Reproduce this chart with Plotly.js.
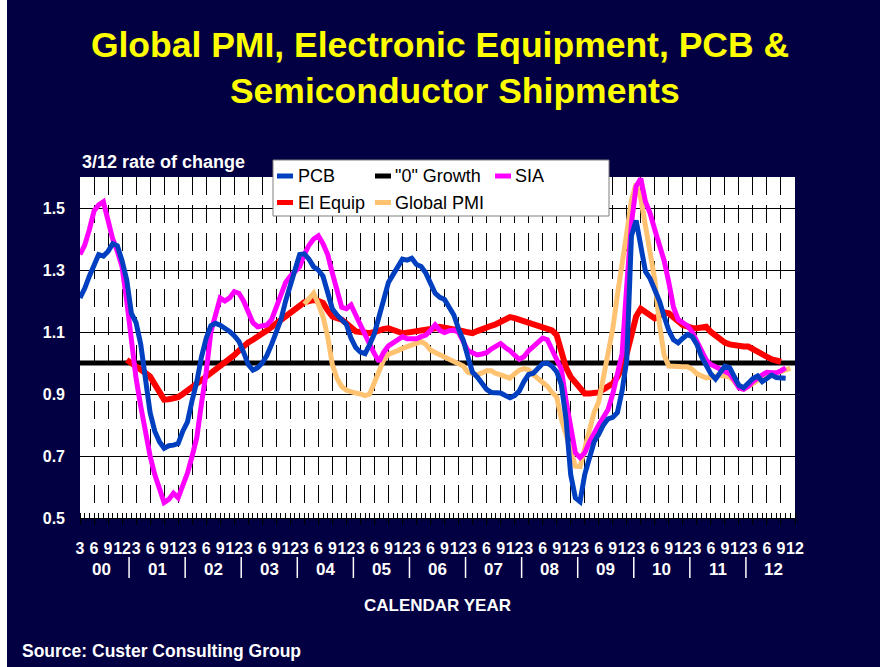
<!DOCTYPE html>
<html>
<head>
<meta charset="utf-8">
<script src="https://cdn.plot.ly/plotly-3.0.1.min.js"></script>
<style>html,body{margin:0;padding:0;background:#020042;}#chart{width:880px;height:667px;}</style>
</head>
<body>
<div id="chart"></div>
<script>
// ---- data (monthly, 3/12 rate of change), first month = March 2000 ----
const startYear = 2000;
const startMonth = 3;
const nMonths = 154; // Mar 2000 .. Dec 2012

const pcb = [
1.21,1.24,1.28,1.32,1.35,1.345,1.36,1.385,1.378,1.33,
1.268,1.16,1.13,1.06,0.95,0.84,0.78,0.746,0.725,0.733,
0.735,0.74,0.78,0.81,0.88,0.94,1.02,1.08,1.12,1.128,
1.122,1.114,1.102,1.088,1.07,1.035,0.995,0.977,0.985,1.00,
1.025,1.06,1.095,1.14,1.20,1.25,1.305,1.35,1.352,1.335,
1.31,1.30,1.28,1.23,1.175,1.155,1.14,1.125,1.08,1.05,
1.035,1.03,1.06,1.095,1.15,1.20,1.26,1.285,1.31,1.335,
1.332,1.338,1.318,1.311,1.29,1.255,1.225,1.212,1.205,1.18,
1.155,1.11,1.074,1.02,0.97,0.955,0.935,0.915,0.905,0.905,
0.903,0.895,0.888,0.895,0.91,0.94,0.963,0.967,0.982,0.998,
1.0,0.99,0.972,0.93,0.82,0.64,0.565,0.553,0.64,0.70,
0.745,0.77,0.80,0.82,0.825,0.84,0.91,1.01,1.41,1.46,
1.38,1.295,1.272,1.24,1.20,1.15,1.105,1.075,1.065,1.08,
1.092,1.085,1.06,1.02,0.99,0.965,0.948,0.968,0.99,0.985,
0.955,0.928,0.92,0.934,0.95,0.958,0.94,0.95,0.961,0.953,
0.951,0.951
];
const pcbStart = 0;

const sia = [
1.35,1.38,1.43,1.49,1.51,1.52,1.46,1.40,1.36,1.31,
1.20,1.065,0.95,0.86,0.77,0.70,0.64,0.59,0.55,0.56,
0.58,0.565,0.60,0.645,0.70,0.76,0.87,0.97,1.10,1.16,
1.21,1.20,1.21,1.23,1.225,1.20,1.16,1.13,1.117,1.12,
1.123,1.14,1.18,1.23,1.26,1.28,1.295,1.31,1.35,1.38,
1.40,1.41,1.385,1.35,1.29,1.23,1.18,1.175,1.187,1.155,
1.12,1.09,1.06,1.03,1.005,1.035,1.055,1.065,1.075,1.085,
1.078,1.076,1.078,1.085,1.09,1.105,1.123,1.105,1.098,1.104,
1.106,1.099,1.07,1.04,1.033,1.026,1.029,1.033,1.045,1.055,
1.063,1.05,1.04,1.025,1.012,1.02,1.04,1.053,1.068,1.08,
1.075,1.045,1.01,0.98,0.88,0.79,0.71,0.695,0.71,0.745,
0.775,0.80,0.825,0.85,0.90,0.96,1.03,1.25,1.45,1.57,
1.595,1.52,1.483,1.43,1.38,1.33,1.26,1.18,1.14,1.13,
1.12,1.10,1.07,1.04,1.01,0.995,0.988,0.98,0.972,0.965,
0.945,0.92,0.915,0.925,0.94,0.952,0.962,0.97,0.97,0.968,
0.975,0.984
];
const siaStart = 0;

const elEquip = [
1.01,1.00,0.993,0.98,0.968,0.956,0.93,0.903,0.882,0.883,
0.885,0.89,0.90,0.91,0.922,0.934,0.945,0.956,0.967,0.98,
0.99,0.998,1.01,1.025,1.04,1.055,1.066,1.075,1.083,1.095,
1.105,1.116,1.127,1.138,1.148,1.16,1.17,1.182,1.196,1.20,
1.203,1.2,1.194,1.17,1.15,1.145,1.14,1.128,1.112,1.102,
1.10,1.098,1.096,1.10,1.106,1.11,1.112,1.107,1.10,1.096,
1.098,1.10,1.101,1.103,1.105,1.108,1.112,1.117,1.115,1.113,
1.111,1.107,1.103,1.099,1.096,1.103,1.11,1.117,1.12,1.125,
1.132,1.14,1.148,1.145,1.14,1.134,1.13,1.127,1.123,1.118,
1.113,1.105,1.09,1.04,0.985,0.955,0.935,0.915,0.902,0.902,
0.902,0.905,0.915,0.925,0.934,0.955,0.985,1.03,1.10,1.15,
1.175,1.165,1.155,1.144,1.153,1.163,1.16,1.15,1.135,1.122,
1.115,1.113,1.112,1.114,1.117,1.10,1.088,1.078,1.066,1.06,
1.056,1.053,1.053,1.053,1.045,1.035,1.025,1.017,1.012,1.008,
1.004
];
const elEquipStart = 10; // Jan 2001

const globalPmi = [
1.19,1.21,1.225,1.19,1.15,1.085,0.995,0.95,0.924,0.912,
0.906,0.903,0.90,0.895,0.90,0.935,0.97,1.01,1.028,1.036,
1.04,1.047,1.052,1.057,1.063,1.069,1.06,1.042,1.034,1.026,
1.02,1.01,1.003,0.996,0.99,0.97,0.966,0.962,0.968,0.975,
0.975,0.966,0.962,0.957,0.951,0.965,0.977,0.982,0.978,0.962,
0.95,0.935,0.925,0.905,0.89,0.82,0.77,0.71,0.667,0.666,
0.72,0.78,0.84,0.875,0.95,1.03,1.11,1.22,1.31,1.42,
1.526,1.578,1.53,1.44,1.35,1.268,1.125,1.025,0.99,0.988,
0.988,0.988,0.988,0.98,0.965,0.958,0.952,0.954,0.957,0.96,
0.958,0.955,0.94,0.922,0.915,0.925,0.935,0.945,0.955,0.962,
0.967,0.969,0.972,0.978,0.983
];
const globalPmiStart = 48; // Mar 2004

const zeroGrowth = [1.0, 1.0];

const yTicks = [0.5, 0.7, 0.9, 1.1, 1.3, 1.5];
const quarterLabels = ['3', '6', '9', '12'];
const yearLabels = ['00','01','02','03','04','05','06','07','08','09','10','11','12'];

// ---- helpers ----
const FONT = 'Liberation Sans, Arial, Helvetica, sans-serif';
const W = 880, H = 667, ML = 80, MR = 85, MT = 177, MB = 149;
const PW = W - ML - MR, PH = H - MT - MB;
const px = x => (x - ML) / PW;          // container px -> paper x
const py = y => (H - MB - y) / PH;      // container px -> paper y
const idx = (arr, start) => arr.map((_, k) => start + k);

// month category indices and quarter ticks
const monthIdx = Array.from({length: nMonths}, (_, i) => i);
const quarterIdx = monthIdx.filter(i => ((startMonth - 1 + i) % 12 + 1) % 3 === 0);
const quarterText = quarterIdx.map(i => quarterLabels[(((startMonth - 1 + i) % 12 + 1) / 3) - 1]);
// year group centres & separators (groups of quarter labels)
const yearCenters = yearLabels.map((_, k) => quarterIdx[k * 4] + (quarterIdx[Math.min(k * 4 + 3, quarterIdx.length - 1)] - quarterIdx[k * 4]) / 2);
const yearSeps = yearLabels.slice(0, -1).map((_, k) => (quarterIdx[k * 4 + 3] + quarterIdx[k * 4 + 4]) / 2);

const traces = [
  {name: '"0" Growth', x: [monthIdx[0], monthIdx[nMonths - 1]], y: zeroGrowth, mode: 'lines',
   line: {color: '#000000', width: 5}},
  {name: 'El Equip', x: idx(elEquip, elEquipStart), y: elEquip, mode: 'lines',
   line: {color: '#FF0000', width: 6}},
  {name: 'Global PMI', x: idx(globalPmi, globalPmiStart), y: globalPmi, mode: 'lines',
   line: {color: '#FFC271', width: 5}},
  {name: 'SIA', x: idx(sia, siaStart), y: sia, mode: 'lines',
   line: {color: '#FF00FF', width: 5}},
  {name: 'PCB', x: idx(pcb, pcbStart), y: pcb, mode: 'lines',
   line: {color: '#0040C0', width: 5}}
];

// manual legend (matches the original's compact two-row box)
const legendItems = [
  {name: 'PCB', color: '#0040C0', sx: 277, tx: 296, y: 176},
  {name: '"0" Growth', color: '#000000', sx: 375, tx: 393, y: 176},
  {name: 'SIA', color: '#FF00FF', sx: 495, tx: 513, y: 176},
  {name: 'El Equip', color: '#FF0000', sx: 277, tx: 296, y: 202.5},
  {name: 'Global PMI', color: '#FFC271', sx: 375, tx: 393, y: 202.5}
];

const shapes = [
  // white strip at the far left of the slide
  {type: 'rect', xref: 'paper', yref: 'paper', x0: px(0), x1: px(7), y0: py(H), y1: py(0),
   fillcolor: '#FFFFFF', line: {width: 0}},
  // legend box
  {type: 'rect', xref: 'paper', yref: 'paper', x0: px(273), x1: px(609), y0: py(216), y1: py(160),
   fillcolor: '#FFFFFF', line: {color: '#7F7F7F', width: 1}}
];
legendItems.forEach(it => shapes.push({type: 'line', xref: 'paper', yref: 'paper',
  x0: px(it.sx), x1: px(it.sx + 16), y0: py(it.y), y1: py(it.y), line: {color: it.color, width: 5}}));
yearSeps.forEach(s => shapes.push({type: 'line', xref: 'x', yref: 'paper', x0: s, x1: s,
  y0: py(557), y1: py(578), line: {color: '#FFFFFF', width: 1.5}}));

const annotations = [];
legendItems.forEach(it => annotations.push({xref: 'paper', yref: 'paper', x: px(it.tx), y: py(it.y),
  xanchor: 'left', yanchor: 'middle', showarrow: false, text: it.name,
  font: {family: FONT, size: 18, color: '#000000'}}));
yearLabels.forEach((t, k) => annotations.push({xref: 'x', yref: 'paper', x: yearCenters[k], y: py(569),
  xanchor: 'center', yanchor: 'middle', showarrow: false, text: t,
  font: {family: FONT, size: 17, color: '#FFFFFF', weight: 'bold'}}));
annotations.push({xref: 'paper', yref: 'paper', x: px(80), y: py(162), xanchor: 'left', yanchor: 'middle',
  showarrow: false, text: '3/12 rate of change', font: {family: FONT, size: 18, color: '#FFFFFF', weight: 'bold'}});
annotations.push({xref: 'paper', yref: 'paper', x: px(20), y: py(651), xanchor: 'left', yanchor: 'middle',
  showarrow: false, text: 'Source: Custer Consulting Group', font: {family: FONT, size: 17.5, color: '#FFFFFF', weight: 'bold'}});

const layout = {
  width: W, height: H,
  margin: {l: ML, r: MR, t: MT, b: MB, pad: 0},
  paper_bgcolor: '#020042',
  plot_bgcolor: '#FFFFFF',
  showlegend: false,
  font: {family: FONT, color: '#FFFFFF'},
  title: {
    text: 'Global PMI, Electronic Equipment, PCB &amp;<br>&nbsp;&nbsp;&nbsp;Semiconductor Shipments',
    font: {family: FONT, size: 35.5, color: '#FFFF00', weight: 'bold'},
    xref: 'container', x: 440 / W, xanchor: 'center',
    yref: 'container', y: 1 - 57 / H, yanchor: 'top'
  },
  xaxis: {
    range: [monthIdx[0], monthIdx[nMonths - 1]],
    tickmode: 'array', tickvals: quarterIdx, ticktext: quarterText,
    ticks: 'outside', ticklen: 6, tickcolor: '#000000', tickwidth: 1,
    ticklabelstandoff: 10,
    tickfont: {family: FONT, size: 16, color: '#FFFFFF', weight: 'bold'},
    tickangle: 0,
    showgrid: true, gridcolor: '#000000', gridwidth: 1, griddash: '18px,10px',
    showline: true, linecolor: '#000000', linewidth: 1,
    zeroline: false, automargin: false,
    minor: {tickmode: 'linear', tick0: 0, dtick: 1, ticks: 'inside', ticklen: 5, tickcolor: '#000000', showgrid: false},
    title: {text: 'CALENDAR YEAR', font: {family: FONT, size: 17, color: '#FFFFFF', weight: 'bold'}, standoff: 42}
  },
  yaxis: {
    range: [0.5, 1.6],
    tickmode: 'array', tickvals: yTicks, ticktext: yTicks.map(v => v.toFixed(1)),
    ticks: '', ticklabelstandoff: 14,
    tickfont: {family: FONT, size: 16, color: '#FFFFFF', weight: 'bold'},
    showgrid: true, gridcolor: '#000000', gridwidth: 1,
    zeroline: false, showline: false, automargin: false
  },
  shapes: shapes,
  annotations: annotations
};

Plotly.newPlot('chart', traces, layout, {displayModeBar: false, staticPlot: true});
</script>
</body>
</html>
